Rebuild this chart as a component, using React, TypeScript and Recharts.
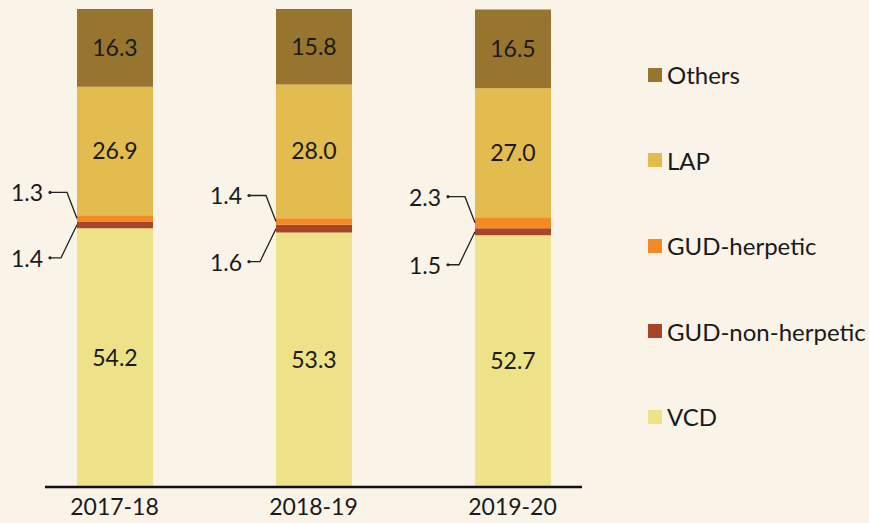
import React from 'react';
import { BarChart, Bar, XAxis, YAxis, LabelList, Legend } from 'recharts';

const categories = ['2017-18', '2018-19', '2019-20'];
const vcd = [54.2, 53.3, 52.7];
const gudNonHerpetic = [1.4, 1.6, 1.5];
const gudHerpetic = [1.3, 1.4, 2.3];
const lap = [26.9, 28.0, 27.0];
const others = [16.3, 15.8, 16.5];

const seriesNames = ['VCD', 'GUD-non-herpetic', 'GUD-herpetic', 'LAP', 'Others'];
const seriesKeys = ['vcd', 'gudNon', 'gudHerp', 'lap', 'others'];
const seriesColors = ['#EDE287', '#A84427', '#F58A22', '#E2BC4E', '#98752F'];

const data = categories.map((c, i) => ({
  name: c,
  vcd: vcd[i],
  gudNon: gudNonHerpetic[i],
  gudHerp: gudHerpetic[i],
  lap: lap[i],
  others: others[i],
}));

const FONT = 'Lato, "Open Sans", sans-serif';
const TEXT = '#1a1a1a';

const fmt = (v: any) => Number(v).toFixed(1);

const UpperCallout = (props: any) => {
  const { x, y, height, value } = props;
  const mid = y + height / 2;
  const ly = mid - 26;
  return (
    <g>
      <polyline
        points={`${x},${mid} ${x - 10},${ly} ${x - 27},${ly}`}
        fill="none"
        stroke="#222"
        strokeWidth={1.3}
      />
      <circle cx={x - 27} cy={ly} r={1.6} fill="#222" />
      <text x={x - 34} y={ly} textAnchor="end" dominantBaseline="central" fontSize={23} fontFamily={FONT} fill={TEXT}>
        {fmt(value)}
      </text>
    </g>
  );
};

const LowerCallout = (props: any) => {
  const { x, y, height, value } = props;
  const mid = y + height / 2;
  const ly = mid + 33;
  return (
    <g>
      <polyline
        points={`${x},${mid} ${x - 16},${ly} ${x - 27},${ly}`}
        fill="none"
        stroke="#222"
        strokeWidth={1.3}
      />
      <circle cx={x - 27} cy={ly} r={1.6} fill="#222" />
      <text x={x - 34} y={ly} textAnchor="end" dominantBaseline="central" fontSize={23} fontFamily={FONT} fill={TEXT}>
        {fmt(value)}
      </text>
    </g>
  );
};

const LegendContent = () => {
  const order = [4, 3, 2, 1, 0];
  return (
    <div style={{ fontFamily: FONT }}>
      {order.map((i) => (
        <div key={seriesKeys[i]} style={{ height: 85.5, display: 'flex', alignItems: 'center' }}>
          <span style={{ display: 'inline-block', width: 14, height: 14, background: seriesColors[i], marginRight: 5 }} />
          <span style={{ fontSize: 24, color: TEXT }}>{seriesNames[i]}</span>
        </div>
      ))}
    </div>
  );
};

export default function App() {
  return (
    <div style={{ position: 'absolute', left: 0, top: 0, width: 869, height: 523, background: '#F9F3E8', fontFamily: FONT }}>
      <BarChart
        width={869}
        height={523}
        data={data}
        margin={{ top: 9, left: 45, right: 287, bottom: 0 }}
        barSize={76}
      >
        <XAxis
          dataKey="name"
          height={36}
          padding={{ left: -30, right: -30 }}
          axisLine={{ stroke: '#111', strokeWidth: 2.5 }}
          tickLine={false}
          tickMargin={6}
          tick={{ fontSize: 23, fill: TEXT, fontFamily: FONT }}
          interval={0}
        />
        <YAxis hide domain={[0, 'dataMax']} />
        <Legend
          layout="vertical"
          align="center"
          verticalAlign="middle"
          content={LegendContent}
          wrapperStyle={{ left: 648, top: 32, width: 221 }}
        />
        {seriesKeys.map((k, i) => (
          <Bar key={k} dataKey={k} name={seriesNames[i]} stackId="a" fill={seriesColors[i]} isAnimationActive={false}>
            {(k === 'vcd' || k === 'lap' || k === 'others') && (
              <LabelList dataKey={k} position="center" formatter={fmt} fill={TEXT} fontSize={23} fontFamily={FONT} />
            )}
            {k === 'gudHerp' && <LabelList dataKey={k} content={UpperCallout} />}
            {k === 'gudNon' && <LabelList dataKey={k} content={LowerCallout} />}
          </Bar>
        ))}
      </BarChart>
    </div>
  );
}
